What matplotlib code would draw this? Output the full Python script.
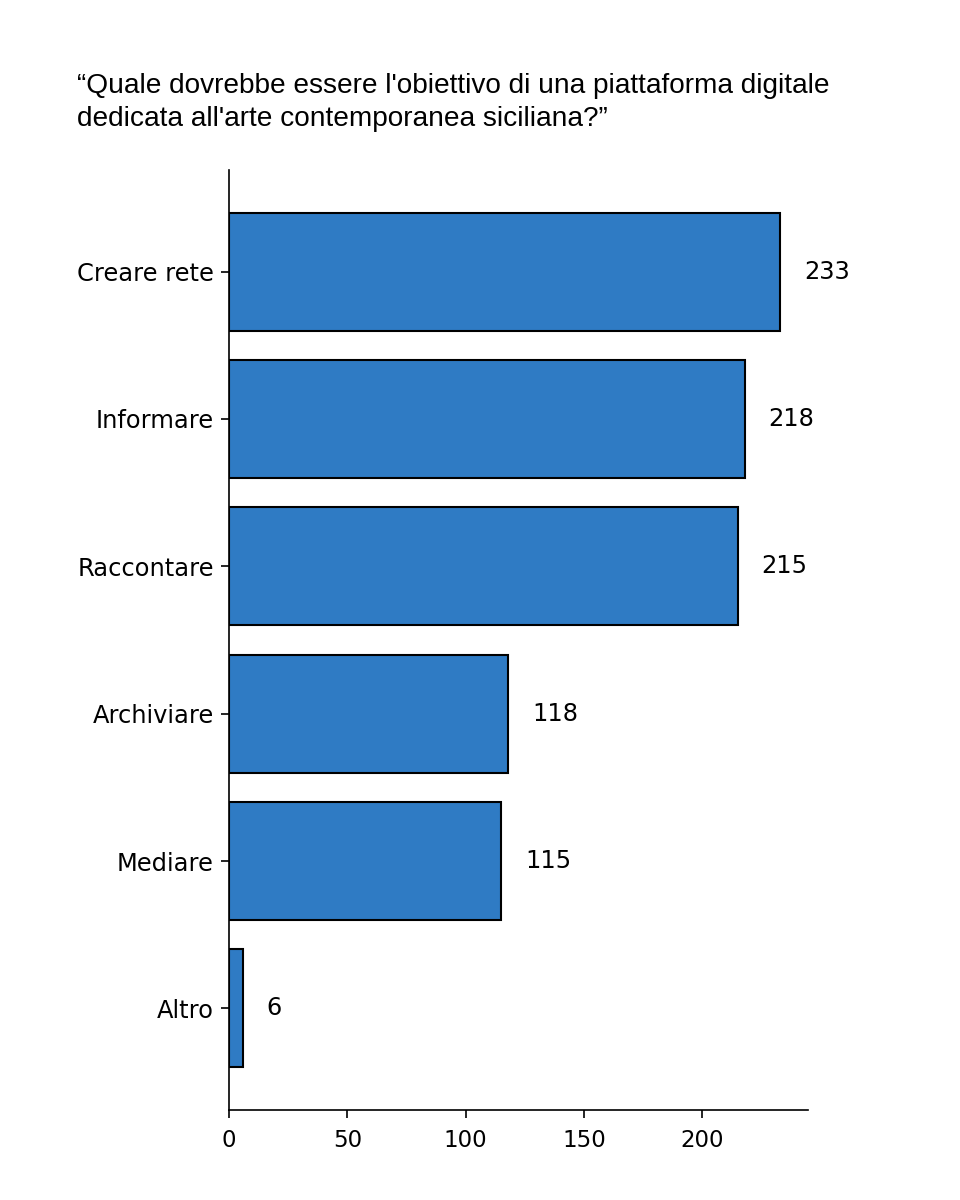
import matplotlib
matplotlib.use("Agg")
import matplotlib.pyplot as plt

categories = ["Creare rete", "Informare", "Raccontare", "Archiviare", "Mediare", "Altro"]
values = [233, 218, 215, 118, 115, 6]
title = "\u201cQuale dovrebbe essere l'obiettivo di una piattaforma digitale\ndedicata all'arte contemporanea siciliana?\u201d"

fig = plt.figure(figsize=(9.6, 12), dpi=100)
ax = fig.add_axes([229/960, 1 - 1110/1200, (808-229)/960, (1110-170)/1200])

ypos = list(range(len(categories)))[::-1]
ax.barh(ypos, values, height=0.8, color="#2F7BC4", edgecolor="black", linewidth=1.5)
ax.set_yticks(ypos)
ax.set_yticklabels(categories, fontsize=17.4)
ax.tick_params(axis="x", labelsize=16.5, length=6, width=1.2, pad=8)
ax.tick_params(axis="y", length=6, width=1.2, pad=5)
ax.set_xticks([0, 50, 100, 150, 200])
for y, v in zip(ypos, values):
    ax.text(v + 10, y, str(v), va="center", ha="left", fontsize=17.4)

for s in ["top", "right"]:
    ax.spines[s].set_visible(False)
for s in ["left", "bottom"]:
    ax.spines[s].set_linewidth(1.2)

fig.text(77/960, 1 - 73/1200, title, ha="left", va="top", fontsize=20.2,
         family="Liberation Sans", linespacing=1.35)

fig.savefig("out.png", dpi=100)
